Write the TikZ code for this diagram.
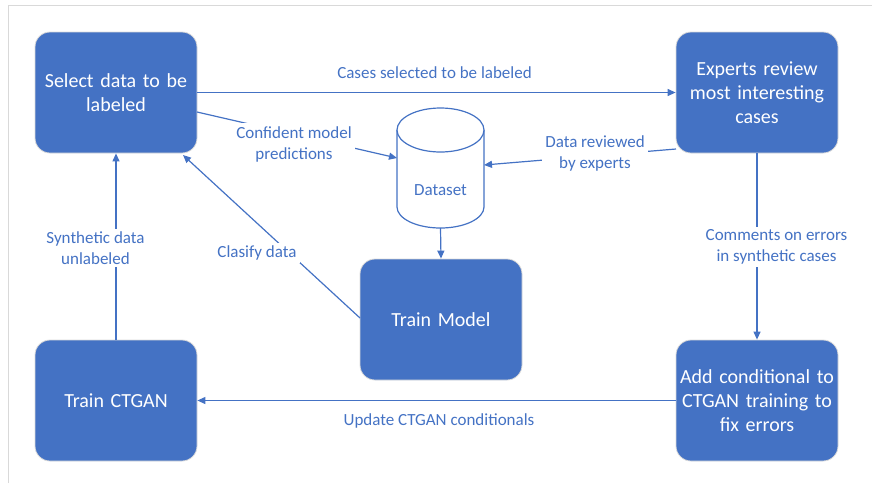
\documentclass[tikz,border=0pt]{standalone}
\usepackage{fontspec}
\setmainfont{Carlito}
\usetikzlibrary{arrows.meta}
\definecolor{oblue}{HTML}{4472C4}
\definecolor{framegray}{HTML}{D9D9D9}
\begin{document}
\begin{tikzpicture}[x=1pt,y=-1pt,
  box/.style={draw=gray!30, line width=0.8pt, fill=oblue, rounded corners=15pt,
    minimum width=162pt, minimum height=121pt, text=white, align=center,
    font=\fontsize{20}{24}\selectfont, inner sep=0pt, text width=158pt},
  lbl/.style={text=oblue, align=center, font=\fontsize{17}{21}\selectfont, fill=white, inner sep=3pt},
  conn/.style={draw=oblue, line width=1.2pt, -{Triangle[length=8pt,width=7pt]}},
  cyl/.style={draw=oblue, line width=1.2pt, fill=white},
]
\useasboundingbox (0,0) rectangle (872,483);
\draw[framegray, line width=1pt] (8,483) -- (8,5) -- (872,5);

% boxes
\node[box] (sel) at (116,92.5) {Select data to be\\labeled};
\node[box] (exp) at (757,92.5) {Experts review\\most interesting\\cases};
\node[box] (ctg) at (116,400.5) {Train CTGAN};
\node[box] (add) at (757,400.5) {Add conditional to\\CTGAN training to\\fix errors};
\node[box] (trm) at (441,319.5) {Train Model};

% dataset cylinder
\node[minimum width=87pt, minimum height=120pt, inner sep=0pt] (ds) at (440.5,168) {};
\draw[cyl] (397,130) -- (397,207) arc[start angle=180, end angle=360, x radius=43.5pt, y radius=21pt] -- (484,130);
\draw[cyl] (440.5,130) ellipse[x radius=43.5pt, y radius=22pt];
\node[text=oblue, font=\fontsize{17}{21}\selectfont] (dst) at (440.5,190) {Dataset};

% connector end points on shape borders
\coordinate (dsL) at (397,158);
\coordinate (dsR) at (484,165);
\coordinate (dsB) at (440.5,228);
\coordinate (s1) at (197,112);
\coordinate (s2) at (183,155);
\coordinate (e1) at (676,149);
\coordinate (t1) at (360,318);

% connectors
\draw[conn] (sel.east) -- (exp.west);
\draw[conn] (s1) -- (dsL);
\draw[conn] (e1) -- (dsR);
\draw[conn] (dsB) -- (trm.north);
\draw[conn] (t1) -- (s2);
\draw[conn] (exp.south) -- (add.north);
\draw[conn] (add.west) -- (ctg.east);
\draw[conn] (ctg.north) -- (sel.south);

% labels
\node[lbl, fill=none] (l1) at (434.5,73) {Cases selected to be labeled};
\node[lbl] (l2) at (294,144) {Confident model\\predictions};
\node[lbl] (l3) at (595,153) {Data reviewed\\by experts};
\node[lbl] (l4) at (257,253) {Clasify data};
\node[lbl] (l5) at (95.5,248) {Synthetic data\\unlabeled};
\node[lbl] (l6) at (776.5,247) {Comments on errors\\in synthetic cases};
\node[lbl, fill=none] (l7) at (439,421) {Update CTGAN conditionals};
\end{tikzpicture}
\end{document}
